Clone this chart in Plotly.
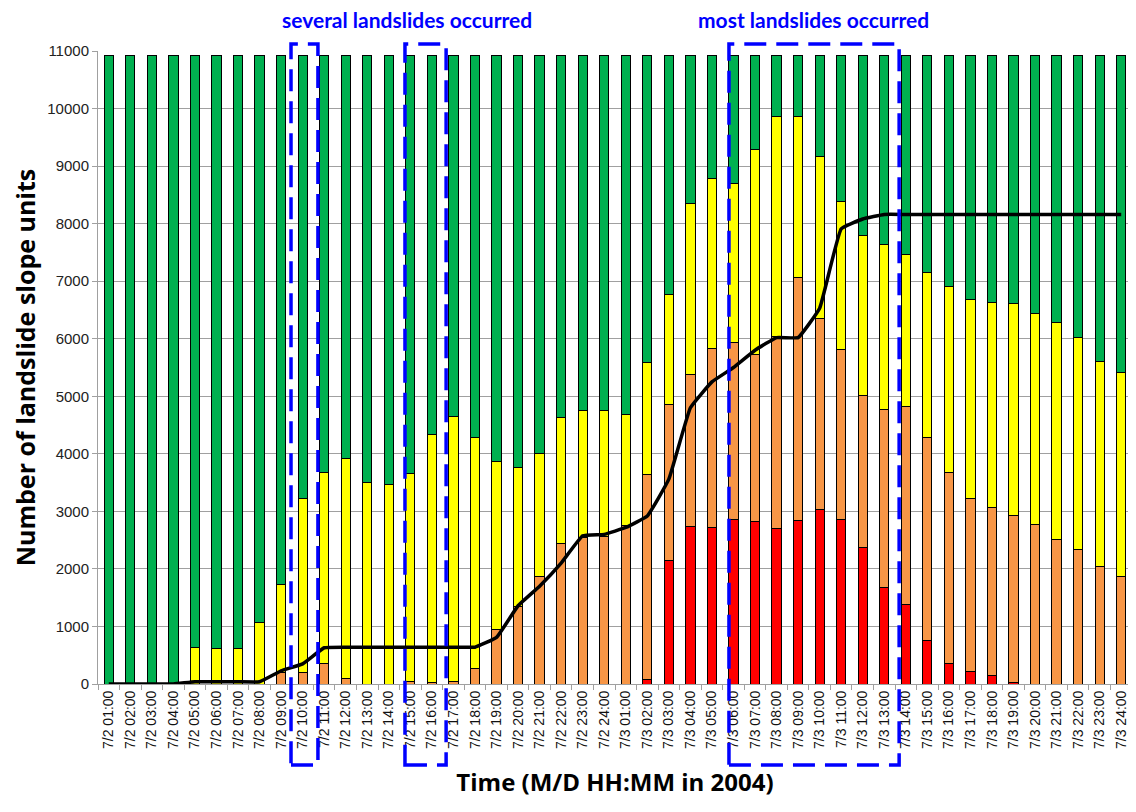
import plotly.graph_objects as go

# ---------------------------
# data
# ---------------------------
hours = [f"{h:02d}:00" for h in range(1, 25)]
time_labels = [f"7/2 {h}" for h in hours] + [f"7/3 {h}" for h in hours]

red = [0, 0, 0, 0, 0, 0, 0, 0, 0, 0, 0, 0, 0, 0, 0, 0, 0, 0, 0, 0, 0, 0, 0, 0,
       0, 75, 2140, 2730, 2715, 2860, 2820, 2695, 2840, 3025, 2860, 2365, 1670, 1375,
       755, 365, 220, 155, 30, 0, 0, 0, 0, 0]
orange = [0, 0, 0, 0, 0, 0, 0, 0, 200, 205, 350, 90, 0, 0, 45, 30, 45, 270, 940, 1345,
          1865, 2445, 2540, 2555, 2750, 3570, 2715, 2645, 3115, 3075, 2910, 3345, 4230,
          3330, 2945, 2650, 3095, 3440, 3520, 3305, 3010, 2905, 2900, 2765, 2510, 2330,
          2050, 1860]
yellow = [0, 0, 0, 0, 640, 615, 615, 1070, 1530, 3015, 3320, 3830, 3500, 3460, 3605,
          4310, 4605, 4005, 2925, 2410, 2135, 2190, 2205, 2190, 1935, 1940, 1910, 2980,
          2960, 2760, 3565, 3830, 2785, 2805, 2585, 2775, 2880, 2645, 2870, 3240, 3460,
          3565, 3675, 3665, 3770, 3690, 3560, 3550]
green = [10920, 10920, 10920, 10920, 10280, 10305, 10305, 9850, 9190, 7700, 7250, 7000,
         7420, 7460, 7270, 6580, 6270, 6645, 7055, 7165, 6920, 6285, 6175, 6175, 6235,
         5335, 4155, 2565, 2130, 2225, 1625, 1050, 1065, 1760, 2530, 3130, 3275, 3460,
         3775, 4010, 4230, 4295, 4315, 4490, 4640, 4900, 5310, 5510]

# cumulative landslides (black line)
landslides = [0, 0, 0, 0, 40, 40, 40, 40, 230, 350, 630, 640, 640, 640, 640, 640, 640,
              640, 810, 1360, 1700, 2100, 2575, 2600, 2720, 2920, 3560, 4800, 5250, 5500,
              5800, 6020, 6020, 6530, 7910, 8080, 8160, 8160, 8160, 8160, 8160, 8160,
              8160, 8160, 8160, 8160, 8160, 8160]

COLORS = {"red": "#FF0000", "orange": "#F79646", "yellow": "#FFFF00", "green": "#00B050"}
BLUE = "#0000FF"

fig = go.Figure()

for name, vals in [("red", red), ("orange", orange), ("yellow", yellow), ("green", green)]:
    fig.add_trace(go.Bar(
        x=time_labels, y=vals, name=name,
        marker=dict(color=COLORS[name], line=dict(color="#000000", width=1)),
    ))

fig.add_trace(go.Scatter(
    x=time_labels, y=landslides, mode="lines", name="landslides",
    line=dict(color="#000000", width=3.5, shape="spline", smoothing=0.3),
))

# dashed boxes marking landslide periods (category index units)
boxes = [(8.46, 9.71), (13.75, 15.66), (28.79, 36.69)]
for x0, x1 in boxes:
    fig.add_shape(
        type="rect", xref="x", yref="paper", x0=x0, x1=x1, y0=-0.128, y1=1.011,
        line=dict(color=BLUE, width=3.5, dash="22px,10px"), layer="above",
    )

for txt, xpix in [("several landslides occurred", 407), ("most landslides occurred", 813)]:
    fig.add_annotation(text=f"<b>{txt}</b>", xref="paper", yref="paper",
                       x=(xpix - 98) / 1034, y=1.049, xanchor="center", yanchor="middle",
                       borderpad=0, showarrow=False,
                       font=dict(color=BLUE, size=21, family="Lato"))

# page body has an 8px margin, so the figure is shifted; sizes compensate for it
fig.update_layout(
    width=1128, height=804,
    barmode="stack", bargap=0.57,
    showlegend=False,
    paper_bgcolor="white", plot_bgcolor="white",
    margin=dict(l=90, r=4, t=43, b=128),
    font=dict(family="Liberation Sans", color="#222222"),
)

fig.update_xaxes(
    type="category", range=[-0.5, 47.5], automargin=False,
    tickangle=-90, tickfont=dict(size=14, color="#111111"),
    showline=True, linecolor="#A0A0A0", linewidth=1,
    ticks="outside", tickson="boundaries", ticklen=5, tickcolor="#A0A0A0",
    showgrid=False,
    title=dict(text="<b>Time (M/D HH:MM in 2004)</b>", standoff=26,
               font=dict(size=24, family="Open Sans", color="#000000")),
)
fig.update_yaxes(
    range=[0, 11000], dtick=1000, tickformat="d", automargin=False,
    tickfont=dict(size=15, color="#222222"),
    showline=True, linecolor="#A0A0A0", linewidth=1,
    ticks="outside", ticklen=5, tickcolor="#A0A0A0",
    showgrid=True, gridcolor="#A0A0A0", gridwidth=1,
    title=dict(text="<b>Number of landslide slope units</b>", standoff=12,
               font=dict(size=25, family="Open Sans", color="#000000")),
)

fig.write_html("out.html")
